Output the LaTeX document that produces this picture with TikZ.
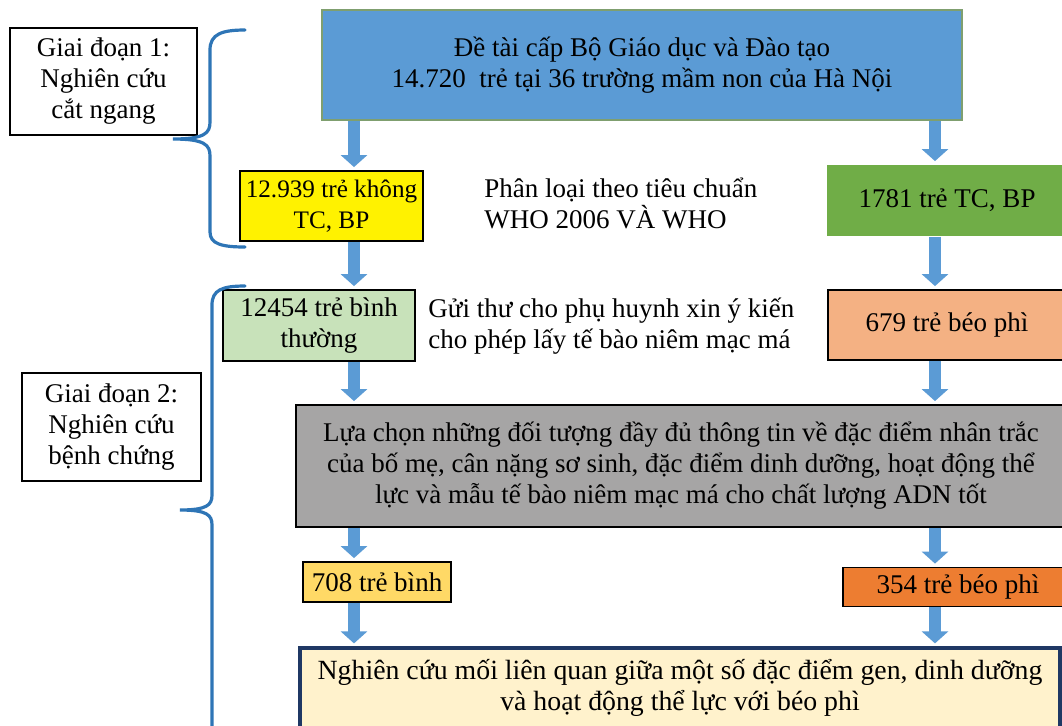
\documentclass[tikz,border=0pt]{standalone}
\usepackage{fontspec}
\setmainfont{Liberation Serif}
\usetikzlibrary{arrows.meta,calc}
\definecolor{topblue}{HTML}{5B9BD5}
\definecolor{topedge}{HTML}{7F9F6F}
\definecolor{tcgreen}{HTML}{70AD47}
\definecolor{lgreen}{HTML}{C8E2BA}
\definecolor{salmon}{HTML}{F4B183}
\definecolor{midgray}{HTML}{A6A5A5}
\definecolor{gold}{HTML}{FFD966}
\definecolor{orange}{HTML}{ED7D31}
\definecolor{cream}{HTML}{FFF2CC}
\definecolor{navy}{HTML}{1F3864}
\definecolor{flowblue}{HTML}{5B9BD5}
\definecolor{braceblue}{HTML}{2E75B6}

\begin{document}
\begin{tikzpicture}[x=0.5pt,y=-0.5pt,
    box/.style={rectangle,draw,line width=0.9pt,align=center,inner sep=2pt,font=\fontsize{13.5}{15.5}\selectfont},
    stage/.style={box,fill=white},
    note/.style={align=left,anchor=west,inner sep=0pt,font=\fontsize{13.5}{15.5}\selectfont},
    flow/.style={draw=flowblue,line width=6pt,-{Triangle[width=13pt,length=6pt]},shorten >=1.5pt},
    bracket/.style={draw=braceblue,line width=1.6pt,line cap=round}]
    \clip (0,0) rectangle (1062,725);
    \fill[white] (0,0) rectangle (1062,725);
    \node[stage,minimum width=93.5pt,minimum height=53.5pt] (gd1) at (103.5,81.5) {Giai đoạn 1:\\Nghiên cứu\\cắt ngang};
    \node[box,fill=topblue,draw=topedge,minimum width=320pt,minimum height=55pt] (top) at (642,65) {Đề tài cấp Bộ Giáo dục và Đào tạo\\14.720~ trẻ tại 36 trường mầm non của Hà Nội};
    \node[box,fill=yellow,minimum width=91.5pt,minimum height=35pt,inner sep=1pt,font=\fontsize{12.6}{15.5}\selectfont] (yel) at (331.5,206) {12.939 trẻ không\\TC, BP};
    \node[note] (cls) at (484,203) {Phân loại theo tiêu chuẩn\\WHO 2006 VÀ WHO};
    \node[box,draw=none,fill=tcgreen,minimum width=120pt,minimum height=35.5pt] (tcbp) at (947,200.5) {1781 trẻ TC, BP};
    \node[box,fill=lgreen,minimum width=96pt,minimum height=35.5pt] (norm) at (319,325.5) {12454 trẻ bình\\thường};
    \node[note] (mail) at (428,326) {Gửi thư cho phụ huynh xin ý kiến\\cho phép lấy tế bào niêm mạc má};
    \node[box,fill=salmon,minimum width=119pt,minimum height=35pt] (obs) at (947,325) {679 trẻ béo phì};
    \node[stage,minimum width=89.5pt,minimum height=54pt] (gd2) at (111.5,427) {Giai đoạn 2:\\Nghiên cứu\\bệnh chứng};
    \node[box,fill=midgray,minimum width=385pt,minimum height=61pt] (sel) at (681,466) {Lựa chọn những đối tượng đầy đủ thông tin về đặc điểm nhân trắc\\của bố mẹ, cân nặng sơ sinh, đặc điểm dinh dưỡng, hoạt động thể\\lực và mẫu tế bào niêm mạc má cho chất lượng ADN tốt};
    \node[box,fill=gold,minimum width=74pt,minimum height=20pt] (ctl) at (377,582) {708 trẻ bình};
    \node[box,fill=orange,minimum width=115pt,minimum height=19.5pt] (cas) at (958,587) {\raisebox{-2pt}{354 trẻ béo phì}};
    \node[box,fill=cream,draw=navy,line width=1.6pt,minimum width=380pt,minimum height=40pt,font=\fontsize{13.9}{15.8}\selectfont] (res) at (680,688) {Nghiên cứu mối liên quan giữa một số đặc điểm gen, dinh dưỡng\\và hoạt động thể lực với béo phì};
    \coordinate (colL) at (354,0);
    \coordinate (colR) at (935,0);
    \draw[flow] (top.south -| colL) -- (yel.north -| colL);
    \draw[flow] (top.south -| colR) -- (tcbp.north -| colR);
    \draw[flow] (yel.south -| colL) -- (norm.north -| colL);
    \draw[flow] (tcbp.south -| colR) -- (obs.north -| colR);
    \draw[flow] (norm.south -| colL) -- (sel.north -| colL);
    \draw[flow] (obs.south -| colR) -- (sel.north -| colR);
    \draw[flow] (sel.south -| colL) -- (ctl.north -| colL);
    \draw[flow] (sel.south -| colR) -- (cas.north -| colR);
    \draw[flow] (ctl.south -| colL) -- (res.north -| colL);
    \draw[flow] (cas.south -| colR) -- (res.north -| colR);
    % giai doan brackets
    \draw[bracket] (245,30) .. controls (222,30) and (210,34) .. (210,50) -- (210,122)
        .. controls (210,133) and (205,139) .. (173,139)
        .. controls (205,139) and (210,145) .. (210,156) -- (210,232)
        .. controls (210,244) and (222,247) .. (245,247);
    \draw[bracket] (245,286) .. controls (222,286) and (212,290) .. (212,305) -- (212,495)
        .. controls (212,505) and (207,510) .. (180,510)
        .. controls (207,510) and (212,515) .. (212,525) -- (212,740);
\end{tikzpicture}
\end{document}
